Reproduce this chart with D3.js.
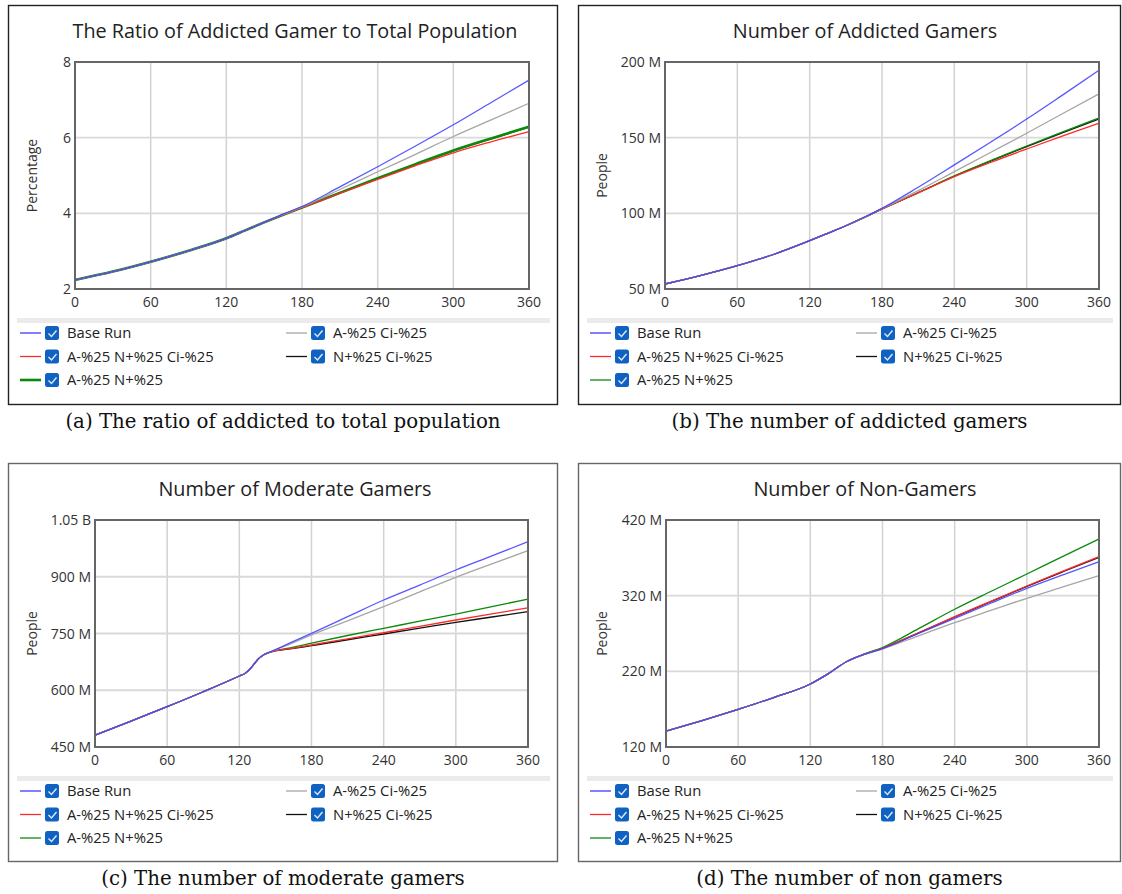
<!DOCTYPE html>
<html>
<head>
<meta charset="utf-8">
<script src="https://cdn.jsdelivr.net/npm/d3@7"></script>
<style>
  body { margin: 0; background: #fff; }
  svg { display: block; }
</style>
</head>
<body>
<script>
// Months (x axis)
var months = [0, 30, 60, 90, 120, 135, 150, 165, 180, 210, 240, 270, 300, 330, 360];
var monthsModerate = [0, 30, 60, 90, 120, 125, 130, 135, 140, 145, 165, 180, 210, 240, 270, 300, 330, 360];
var xTicks = [0, 60, 120, 180, 240, 300, 360];

var seriesNames = ["Base Run", "A-%25 Ci-%25", "A-%25 N+%25 Ci-%25", "N+%25 Ci-%25", "A-%25 N+%25"];
var seriesColors = ["#3a3aff", "#a6a6a6", "#ff2a2a", "#111111", "#0a8a0a"];

// (a) ratio of addicted gamers (%)
var ratioBase  = [2.24, 2.46, 2.72, 3.01, 3.34, 3.55, 3.76, 3.98, 4.18, 4.70, 5.23, 5.78, 6.34, 6.93, 7.52];
var ratioGray  = [2.24, 2.46, 2.72, 3.01, 3.34, 3.55, 3.76, 3.97, 4.17, 4.63, 5.10, 5.56, 6.03, 6.47, 6.91];
var ratioRed   = [2.24, 2.46, 2.72, 3.01, 3.34, 3.55, 3.76, 3.96, 4.15, 4.53, 4.90, 5.26, 5.60, 5.89, 6.16];
var ratioBlack = [2.24, 2.46, 2.72, 3.01, 3.34, 3.55, 3.76, 3.96, 4.15, 4.54, 4.92, 5.29, 5.65, 5.97, 6.28];
var ratioGreen = [2.24, 2.46, 2.72, 3.01, 3.34, 3.55, 3.76, 3.96, 4.15, 4.54, 4.93, 5.30, 5.66, 5.98, 6.29];

// (b) addicted gamers (millions)
var addBase  = [53.3, 59, 65.4, 72.8, 81.9, 86.8, 91.8, 97.4, 103.3, 117.2, 132, 147, 162.3, 178.3, 194.5];
var addGray  = [53.3, 59, 65.4, 72.8, 81.9, 86.8, 91.8, 97.3, 103.1, 115, 127.6, 140.2, 152.9, 166, 178.9];
var addRed   = [53.3, 59, 65.4, 72.8, 81.9, 86.8, 91.8, 97.2, 102.8, 113.5, 124.2, 133.6, 142.5, 151.2, 159.5];
var addBlack = [53.3, 59, 65.4, 72.8, 81.9, 86.8, 91.8, 97.2, 102.9, 113.6, 124.5, 134.5, 144.1, 153.3, 162.4];
var addGreen = [53.3, 59, 65.4, 72.8, 81.9, 86.8, 91.8, 97.2, 102.9, 113.7, 124.7, 134.8, 144.5, 153.8, 163];

// (c) moderate gamers (millions)
var modBase  = [481, 518.5, 556.5, 596, 637.6, 645, 660, 680, 693, 700, 729, 750.5, 794.5, 838.5, 878, 917.8, 955, 992.6];
var modGray  = [481, 518.5, 556.5, 596, 637.6, 645, 660, 680, 693, 700, 726, 746, 783.5, 820.8, 860, 898.5, 934, 968.8];
var modRed   = [481, 518.5, 556.5, 596, 637.6, 645, 660, 680, 693, 700, 711.5, 719.6, 736, 752, 769, 785.7, 802, 818];
var modBlack = [481, 518.5, 556.5, 596, 637.6, 645, 660, 680, 693, 700, 710.5, 717.7, 733.5, 748.7, 764, 779.6, 793.6, 807.6];
var modGreen = [481, 518.5, 556.5, 596, 637.6, 645, 660, 680, 693, 700, 714, 724.5, 744.7, 763.7, 782.5, 801.5, 821, 841];

// (d) non-gamers (millions)
var nonBase  = [141.1, 155, 169.8, 185.5, 203.3, 217, 232.7, 242.5, 250, 270, 290, 310, 329.7, 347.5, 364.9];
var nonGray  = [141.1, 155, 169.8, 185.5, 203.3, 217, 232.7, 242.3, 249.5, 267, 284.3, 300.5, 316.5, 331.5, 346.4];
var nonRed   = [141.1, 155, 169.8, 185.5, 203.3, 217, 232.7, 242.6, 250.5, 271, 292.2, 312.5, 332.8, 352.3, 371.5];
var nonBlack = [141.1, 155, 169.8, 185.5, 203.3, 217, 232.7, 242.6, 250.4, 270.8, 291.8, 312, 332.2, 351.6, 370.6];
var nonGreen = [141.1, 155, 169.8, 185.5, 203.3, 217, 232.7, 243, 251.5, 276.5, 302, 325.5, 348.6, 372, 394.9];

// y ticks
var ratioTicks = [2, 4, 6, 8];
var ratioTickLabels = ["2", "4", "6", "8"];
var addTicks = [50, 100, 150, 200];
var addTickLabels = ["50 M", "100 M", "150 M", "200 M"];
var modTicks = [450, 600, 750, 900, 1050];
var modTickLabels = ["450 M", "600 M", "750 M", "900 M", "1.05 B"];
var nonTicks = [120, 220, 320, 420];
var nonTickLabels = ["120 M", "220 M", "320 M", "420 M"];

var panels = [
  { box: [8, 5, 558, 405], plot: [75, 62, 529, 289], border: "#222",
    title: "The Ratio of Addicted Gamer to Total Population", yLabel: "Percentage",
    caption: "(a) The ratio of addicted to total population",
    x: months, series: [ratioBase, ratioGray, ratioRed, ratioBlack, ratioGreen],
    ticks: ratioTicks, tickLabels: ratioTickLabels, greenWidth: 2.6 },
  { box: [578, 5, 1121, 405], plot: [665, 62, 1099, 289], border: "#222",
    title: "Number of Addicted Gamers", yLabel: "People",
    caption: "(b) The number of addicted gamers",
    x: months, series: [addBase, addGray, addRed, addBlack, addGreen],
    ticks: addTicks, tickLabels: addTickLabels, greenWidth: 1.3 },
  { box: [8, 463, 558, 862], plot: [95, 520, 528, 747], border: "#666",
    title: "Number of Moderate Gamers", yLabel: "People",
    caption: "(c) The number of moderate gamers",
    x: monthsModerate, series: [modBase, modGray, modRed, modBlack, modGreen],
    ticks: modTicks, tickLabels: modTickLabels, greenWidth: 1.3 },
  { box: [578, 463, 1121, 862], plot: [666, 520, 1099, 747], border: "#666",
    title: "Number of Non-Gamers", yLabel: "People",
    caption: "(d) The number of non gamers",
    x: months, series: [nonBase, nonGray, nonRed, nonBlack, nonGreen],
    ticks: nonTicks, tickLabels: nonTickLabels, greenWidth: 1.3 }
];

var font = "'Open Sans', 'Noto Sans', sans-serif";

var svg = d3.select("body").append("svg")
  .attr("width", 1122)
  .attr("height", 894);

panels.forEach(function(p) {
  var g = svg.append("g");
  var bx0 = p.box[0], by0 = p.box[1], bx1 = p.box[2], by1 = p.box[3];

  // outer frame
  g.append("rect")
    .attr("x", bx0 + 0.5).attr("y", by0 + 0.5)
    .attr("width", bx1 - bx0 - 1).attr("height", by1 - by0 - 1)
    .attr("fill", "#fff")
    .attr("stroke", p.border)
    .attr("stroke-width", 1.4);

  var x = d3.scaleLinear().domain([0, 360]).range([p.plot[0], p.plot[2]]);
  var y = d3.scaleLinear().domain([p.ticks[0], p.ticks[p.ticks.length - 1]]).range([p.plot[3], p.plot[1]]);

  // grid
  g.selectAll(".vg").data(xTicks.slice(1, -1)).enter().append("line")
    .attr("x1", function(d) { return x(d); }).attr("x2", function(d) { return x(d); })
    .attr("y1", p.plot[1]).attr("y2", p.plot[3])
    .attr("stroke", "#d2d2d2").attr("stroke-width", 1.5);
  g.selectAll(".hg").data(p.ticks.slice(1, -1)).enter().append("line")
    .attr("x1", p.plot[0]).attr("x2", p.plot[2])
    .attr("y1", function(d) { return y(d); }).attr("y2", function(d) { return y(d); })
    .attr("stroke", "#d9d9d9").attr("stroke-width", 1.8);

  // series lines (black first, base run last)
  var order = [3, 4, 2, 1, 0];
  order.forEach(function(i) {
    var line = d3.line()
      .x(function(d, k) { return x(p.x[k]); })
      .y(function(d) { return y(d); })
      .curve(d3.curveMonotoneX);
    g.append("path")
      .datum(p.series[i])
      .attr("d", line)
      .attr("fill", "none")
      .attr("stroke", seriesColors[i])
      .attr("stroke-opacity", i === 0 ? 0.85 : 1)
      .attr("stroke-width", i === 4 ? p.greenWidth : 1.3);
  });

  // plot frame
  g.append("rect")
    .attr("x", p.plot[0]).attr("y", p.plot[1])
    .attr("width", p.plot[2] - p.plot[0]).attr("height", p.plot[3] - p.plot[1])
    .attr("fill", "none").attr("stroke", "#666").attr("stroke-width", 2);

  // axes text
  g.selectAll(".xt").data(xTicks).enter().append("text")
    .attr("x", function(d) { return x(d); })
    .attr("y", p.plot[3] + 18)
    .attr("text-anchor", "middle")
    .attr("font-family", font).attr("font-size", "14px").attr("fill", "#333")
    .text(function(d) { return d; });
  g.selectAll(".yt").data(p.ticks).enter().append("text")
    .attr("x", p.plot[0] - 4)
    .attr("y", function(d) { return y(d) + 5; })
    .attr("text-anchor", "end")
    .attr("font-family", font).attr("font-size", "14px").attr("fill", "#333")
    .text(function(d, i) { return p.tickLabels[i]; });

  g.append("text")
    .attr("transform", "translate(" + (bx0 + 29) + "," + ((p.plot[1] + p.plot[3]) / 2) + ") rotate(-90)")
    .attr("text-anchor", "middle")
    .attr("font-family", font).attr("font-size", "14px").attr("fill", "#333")
    .text(p.yLabel);

  // title
  g.append("text")
    .attr("x", bx0 + 287).attr("y", by0 + 33)
    .attr("text-anchor", "middle")
    .attr("font-family", font).attr("font-size", "19.8px").attr("fill", "#222")
    .text(p.title);

  // legend band
  g.append("rect")
    .attr("x", bx0 + 9).attr("y", by0 + 313)
    .attr("width", bx1 - bx0 - 17).attr("height", 5)
    .attr("fill", "#ebebeb");

  var legPos = [[0, 0], [1, 0], [0, 1], [1, 1], [0, 2]];
  seriesNames.forEach(function(name, i) {
    var cx = bx0 + (legPos[i][0] === 0 ? 12 : 278);
    var cy = by0 + 328 + legPos[i][1] * 23.5;
    g.append("line")
      .attr("x1", cx).attr("x2", cx + 21)
      .attr("y1", cy).attr("y2", cy)
      .attr("stroke", seriesColors[i])
      .attr("stroke-width", i === 4 ? p.greenWidth : 1.3);
    g.append("rect")
      .attr("x", cx + 25).attr("y", cy - 7)
      .attr("width", 14).attr("height", 14)
      .attr("rx", 2.5)
      .attr("fill", "#0f62c2");
    g.append("path")
      .attr("d", "M" + (cx + 28.5) + "," + (cy + 0.5) + " l3,3 l5,-6")
      .attr("fill", "none").attr("stroke", "#dfe9f6").attr("stroke-width", 1.4);
    g.append("text")
      .attr("x", cx + 47).attr("y", cy + 5)
      .attr("font-family", font).attr("font-size", "14.8px").attr("fill", "#222")
      .text(name);
  });

  // caption
  svg.append("text")
    .attr("x", (bx0 + bx1) / 2).attr("y", by1 + 23)
    .attr("text-anchor", "middle")
    .attr("font-family", "'DejaVu Serif', 'Liberation Serif', serif")
    .attr("font-size", "19.8px").attr("fill", "#111")
    .text(p.caption);
});
</script>
</body>
</html>
